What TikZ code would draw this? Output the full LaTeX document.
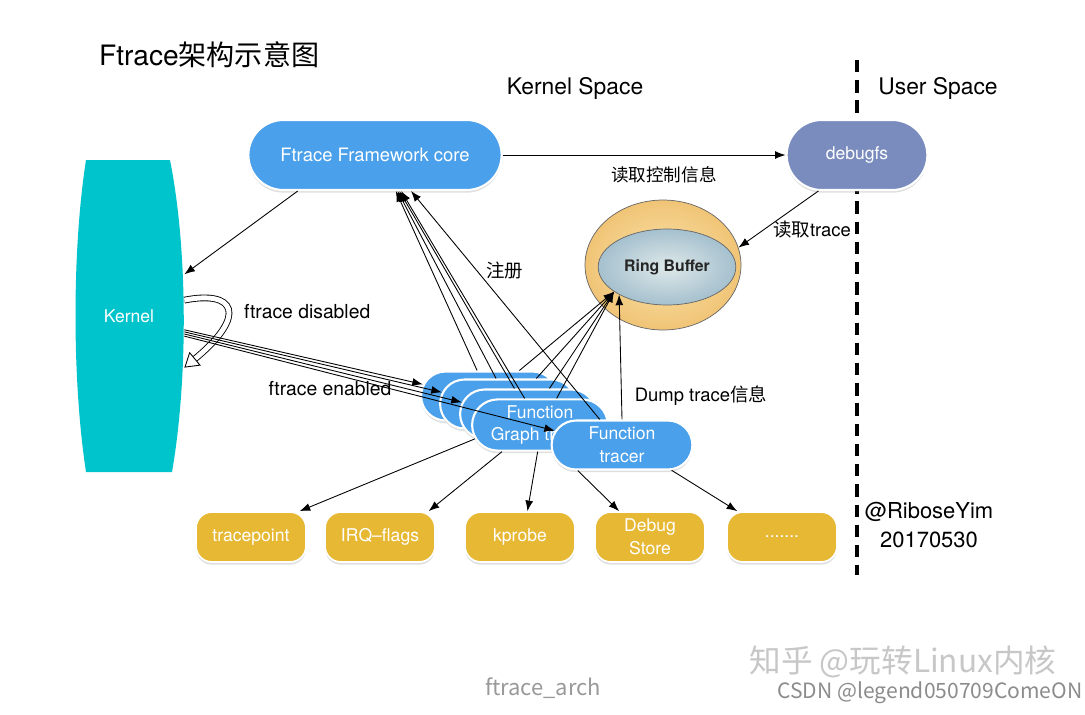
\documentclass[tikz,border=0pt]{standalone}
\usepackage{fontspec}
\setmainfont{TeX Gyre Heros}
\newfontfamily\cjk{Noto Sans CJK SC}
\usepackage{tikz}
\usetikzlibrary{arrows.meta,shapes.misc,shapes.geometric,shadows}
\definecolor{pillblue}{RGB}{74,160,234}
\definecolor{fsgray}{RGB}{122,140,190}
\definecolor{kernteal}{RGB}{0,196,204}
\definecolor{tpyellow}{RGB}{231,184,52}
\definecolor{ringtan}{RGB}{240,196,118}
\definecolor{ringlight}{RGB}{250,228,172}
\definecolor{bufblue}{RGB}{165,192,206}
\definecolor{buflight}{RGB}{222,233,233}
\newcommand{\fsize}[2]{\fontsize{#1}{#2}\selectfont}
\tikzset{
    bluepill/.style={rounded rectangle, fill=pillblue, draw=white, line width=1.2pt, text=white,
        minimum width=2.95cm, minimum height=0.98cm, align=center, font=\fsize{10}{13},
        drop shadow={shadow xshift=0pt, shadow yshift=-1.5pt, opacity=0.25}},
    goldpill/.style={rectangle, rounded corners=9pt, fill=tpyellow, draw=white, line width=1pt, text=white,
        minimum width=2.2cm, minimum height=1cm, align=center, font=\fsize{10}{13},
        drop shadow={shadow xshift=0pt, shadow yshift=-1.5pt, opacity=0.25}},
    conn/.style={line width=0.5pt, -{Latex[length=6pt,width=4.5pt]}},
    lbl/.style={font=\fsize{11}{13}}
}

\begin{document}
\begin{tikzpicture}[x=0.02cm, y=-0.02cm]
    \useasboundingbox (0,0) rectangle (1085,714);
    \fill[white] (0,0) rectangle (1085,714);

    \node[font=\fsize{16}{18}, anchor=west] (title) at (93,55) {Ftrace{\cjk 架构示意图}};
    \node[font=\fsize{13}{15}] (kspace) at (575,88) {Kernel Space};
    \node[font=\fsize{13}{15}] (uspace) at (938,88) {User Space};
    \draw[line width=1.8pt, dash pattern=on 7pt off 4.5pt] (857,60) -- (857,575);

    \fill[kernteal] (86,160) -- (170,160) .. controls (188,250) and (188,380) .. (172,472) -- (86,472) .. controls (72,380) and (72,250) .. cycle;
    \node[minimum width=2.2cm, minimum height=6.24cm, text=white, font=\fsize{10}{12}] (kernel) at (129,316) {Kernel};

    \node[bluepill, minimum width=5.3cm, minimum height=1.4cm, font=\fsize{10.5}{12}] (core) at (375,155) {Ftrace Framework core};
    \node[bluepill, fill=fsgray, minimum width=3.05cm, minimum height=1.4cm] (debugfs) at (857,155) {debugfs};

    \node[ellipse, minimum width=3.12cm, minimum height=2.6cm, draw=black!60, line width=0.4pt, inner color=ringlight, outer color=ringtan] (ring) at (663,265) {};
    \node[ellipse, minimum width=2cm, minimum height=1.52cm, draw=black!60, line width=0.4pt, inner color=buflight, outer color=bufblue, text=black!85, font=\bfseries\fsize{9}{11}] (rb) at (667,267) {Ring Buffer};

    \node[bluepill] (p1) at (489,396) {};
    \node[bluepill] (p2) at (508,404) {};
    \node[bluepill] (p3) at (528,414) {};
    \node[bluepill] (p4) at (540,425) {Function\\Graph tracer};
    \node[bluepill, minimum width=3.05cm] (ft) at (622,445) {Function\\tracer};

    \node[goldpill] (tp) at (251,537) {tracepoint};
    \node[goldpill] (irq) at (380,537) {IRQ–flags};
    \node[goldpill] (kp) at (520,537) {kprobe};
    \node[goldpill] (ds) at (650,537) {Debug\\Store};
    \node[goldpill] (dots) at (782,537) {.......};

    \node[lbl] (fen) at (330,389) {ftrace enabled};
    \node[lbl, anchor=west] (fdis) at (238,312) {ftrace disabled};
    \node[font=\fsize{12.5}{17}, align=center] (sign) at (929,525) {@RiboseYim\\20170530};

    \draw[conn] (core.east) -- node[pos=0.57, below=3pt, font=\cjk\fsize{10}{12}] (ctl) {读取控制信息} (debugfs.west);
    \draw[conn] (debugfs.-137) -- node[pos=0.69, right=2pt, font=\fsize{10.5}{12}] (rdtrace) {{\cjk 读取}trace} (ring.13);
    \draw[conn] (core.-155) -- (kernel.37);
    \draw[double, double distance=2.8pt, line width=0.5pt, -{Triangle[open, length=8pt, width=10pt]}] (kernel.16) .. controls (235,290) and (248,315) .. (kernel.-43);

    \draw[conn] (kernel.-14) -- (p1.170);
    \draw[conn] (kernel.-16) -- (p2.170);
    \draw[conn] (kernel.-18) -- (p3.170);
    \draw[conn] (kernel.-20) -- (ft.168);

    \draw[conn] (p1.115) -- (core.-60);
    \draw[conn] (p2.115) -- (core.-58);
    \draw[conn] (p3.118) -- (core.-56);
    \draw[conn] (p4.120) -- (core.-54);
    \draw[conn] (ft.131) -- node[pos=0.654, right=2pt, font=\cjk\fsize{10.5}{12}] (reg) {注册} (core.-45);

    \draw[conn] (p1.40) -- (rb.-155);
    \draw[conn] (p2.42) -- (rb.-155);
    \draw[conn] (p3.50) -- (rb.-155);
    \draw[conn] (p4.58) -- (rb.-155);
    \draw[conn] (ft.90) -- node[pos=0.19, right=4pt, font=\fsize{10.5}{12}] (dump) {Dump trace{\cjk 信息}} (rb.-150);

    \draw[conn] (p4.-168) -- (tp.28);
    \draw[conn] (p4.-145) -- (irq.28);
    \draw[conn] (p4.-95) -- (kp.74);
    \draw[conn] (ft.-150) -- (ds.140);
    \draw[conn] (ft.-27) -- (dots.150);

    \node[font=\cjk\fsize{12.5}{14}, text=black!40] (cap) at (543,688) {ftrace\_arch};
    \node[font=\cjk\fsize{18}{20}, text=black!22] (zhihu) at (903,662) {知乎 @玩转Linux内核};
    \node[font=\cjk\fsize{12}{14}, text=black!45] (csdn) at (930,693) {CSDN @legend050709ComeON};
\end{tikzpicture}
\end{document}
